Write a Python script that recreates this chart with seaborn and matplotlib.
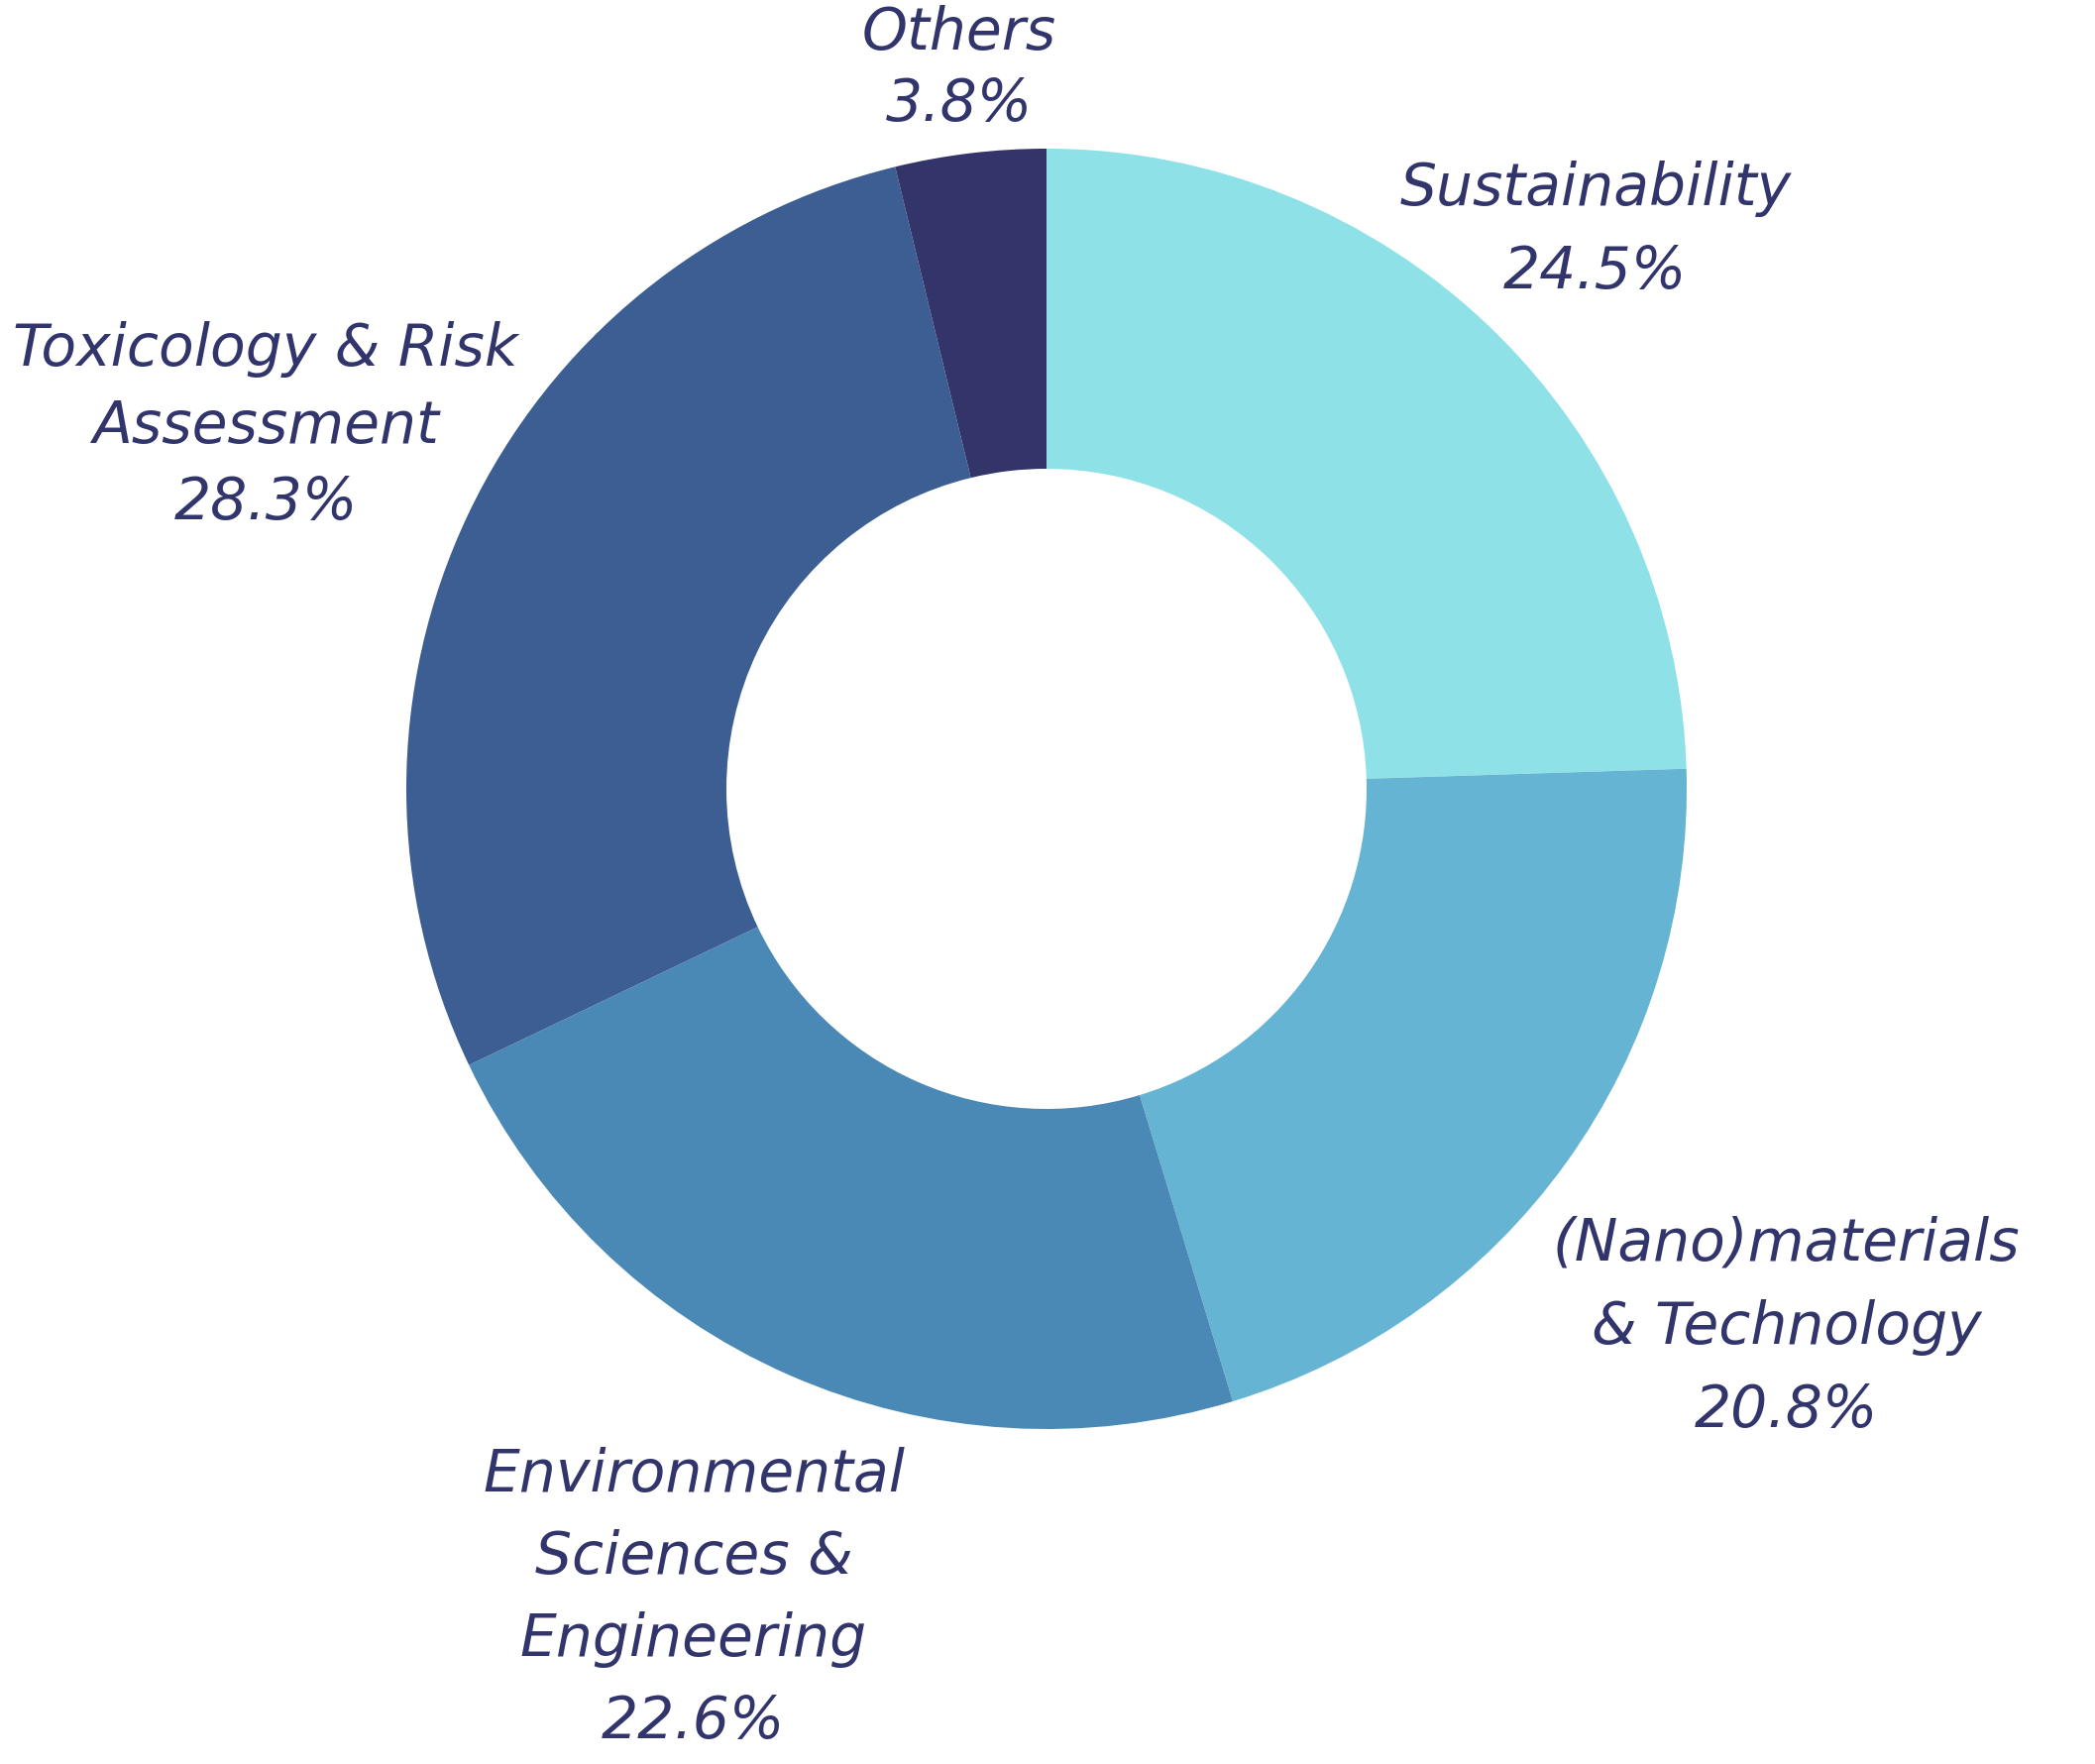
import numpy as np
import matplotlib
matplotlib.use("Agg")
import matplotlib.pyplot as plt
import seaborn as sns

# 数据
categories = ["Sustainability", "(Nano)materials\n& Technology",
              "Environmental\nSciences &\nEngineering",
              "Toxicology & Risk\nAssessment", "Others"]
shares = [24.5, 20.8, 22.6, 28.3, 3.8]
colors = ["#8ee2e7", "#65b4d3", "#4a89b5", "#3c5e92", "#33356a"]

sns.set_theme(style="white")
plt.rcParams["font.family"] = ["DejaVu Sans"]

W, H = 2114, 1780
fig = plt.figure(figsize=(W / 100, H / 100), dpi=100)
ax = fig.add_axes([0, 0, 1, 1])

cx, cy = 1056, H - 796
R = 646
palette = sns.color_palette(colors)

wedges, _ = ax.pie(shares, colors=palette, startangle=90, counterclock=False,
                   center=(cx, cy), radius=R, frame=True,
                   wedgeprops=dict(width=R - 323, linewidth=0))
ax.set_xlim(0, W)
ax.set_ylim(0, H)
ax.set_aspect("equal")
ax.axis("off")

# 标签布局：距离（以外半径为单位）和行距
label_dist = [1.232, 1.422, 1.368, 1.35, 1.145]
label_spacing = [1.60, 1.60, 1.58, 1.45, 1.32]
text_color = "#31356b"
for w, cat, val, d, ls in zip(wedges, categories, shares, label_dist, label_spacing):
    ang = np.deg2rad((w.theta1 + w.theta2) / 2)
    x = cx + d * R * np.cos(ang)
    y = cy + d * R * np.sin(ang) - 8
    ax.text(x, y, f"{cat}\n{val}%", ha="center", va="center",
            multialignment="center", fontsize=42, fontstyle="italic",
            color=text_color, linespacing=ls)

fig.savefig("out.png", dpi=100, facecolor="white")
